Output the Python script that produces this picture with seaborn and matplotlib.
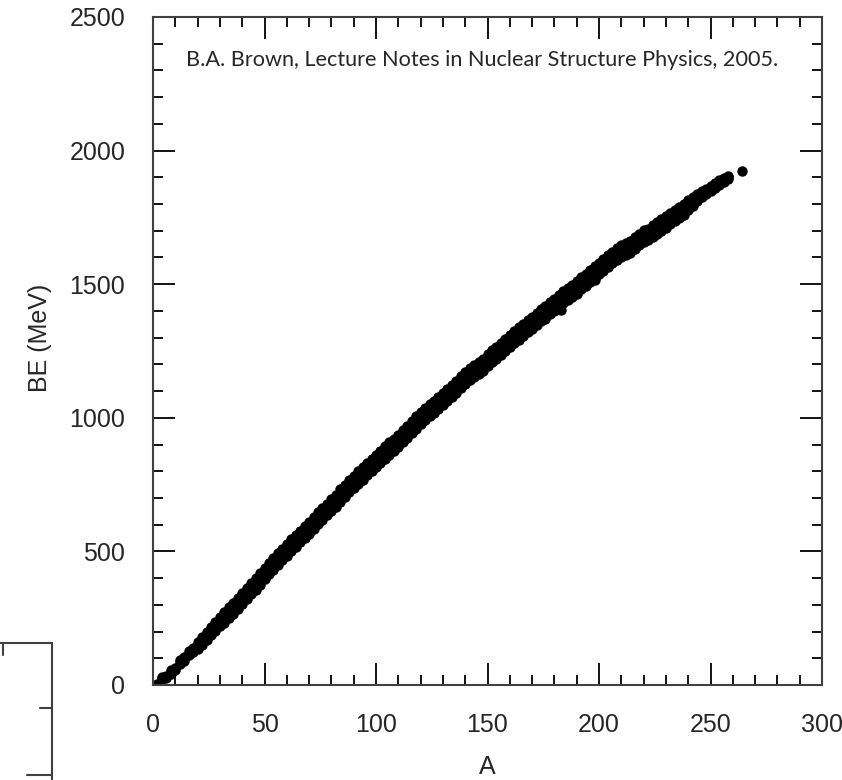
import numpy as np
import pandas as pd
import matplotlib.pyplot as plt
import seaborn as sns
from matplotlib.lines import Line2D
from matplotlib.ticker import MultipleLocator

# mass number grid for the band (step 2)
mass_a = list(range(2, 259, 2))

# upper edge of the band (most bound isobar), MeV
be_upper = [2.2, 28.3, 32.0, 56.5, 64.8, 92.2, 105.3, 127.6, 139.8, 160.6,
            177.8, 198.3, 216.7, 236.5, 255.6, 271.8, 291.8, 308.7, 327.3, 343.8,
            361.9, 381.0, 398.8, 418.7, 437.8, 456.3, 474.0, 492.3, 509.9, 526.8,
            545.3, 561.8, 578.1, 595.4, 611.1, 628.7, 645.7, 662.1, 679.0, 695.4,
            712.8, 732.3, 749.2, 768.5, 783.9, 799.7, 814.7, 830.0, 846.2, 861.9,
            875.2, 892.8, 907.7, 922.5, 937.1, 953.6, 969.0, 988.7, 1005.0, 1020.5,
            1035.5, 1050.0, 1063.9, 1079.4, 1093.8, 1109.2, 1123.4, 1139.0, 1158.3, 1172.7,
            1185.1, 1196.3, 1208.0, 1220.5, 1237.4, 1253.1, 1266.6, 1281.6, 1295.9, 1309.3,
            1324.1, 1338.0, 1351.6, 1365.8, 1378.1, 1392.8, 1406.6, 1418.4, 1432.8, 1444.6,
            1459.3, 1472.9, 1484.8, 1497.7, 1512.8, 1526.1, 1539.6, 1553.6, 1566.5, 1581.2,
            1595.2, 1608.7, 1622.3, 1636.4, 1645.6, 1652.9, 1661.0, 1675.9, 1689.6, 1701.9,
            1708.2, 1720.3, 1731.6, 1743.1, 1755.1, 1766.7, 1778.6, 1790.4, 1801.7, 1813.5,
            1825.0, 1836.0, 1847.0, 1857.8, 1868.0, 1878.6, 1889.0, 1897.0, 1906.0]

# middle of the band
be_mid = [1.5, 26.5, 30.0, 50.0, 60.5, 86.0, 98.0, 119.5, 131.0, 151.0,
          168.0, 188.5, 206.0, 225.0, 243.0, 257.5, 276.5, 292.5, 311.0, 327.5,
          345.5, 364.5, 382.0, 402.0, 421.0, 439.5, 457.0, 475.5, 493.0, 510.0,
          527.5, 543.5, 560.0, 577.5, 593.0, 610.5, 627.5, 644.0, 661.0, 677.5,
          695.0, 714.0, 731.0, 750.0, 765.5, 781.5, 796.5, 812.0, 828.0, 844.0,
          857.0, 874.5, 889.5, 904.5, 919.0, 935.5, 951.0, 970.5, 987.0, 1002.5,
          1017.5, 1032.0, 1046.0, 1061.5, 1076.0, 1091.0, 1105.5, 1121.0, 1140.0, 1154.5,
          1167.0, 1178.5, 1190.0, 1202.5, 1219.5, 1235.0, 1248.5, 1263.5, 1278.0, 1291.5,
          1306.0, 1320.0, 1333.5, 1348.0, 1360.0, 1375.0, 1388.5, 1400.5, 1415.0, 1426.5,
          1441.5, 1455.0, 1467.0, 1480.0, 1495.0, 1508.0, 1521.5, 1535.5, 1548.5, 1563.0,
          1577.0, 1590.5, 1604.0, 1618.5, 1627.5, 1635.0, 1643.0, 1658.0, 1671.5, 1684.0,
          1690.0, 1702.5, 1713.5, 1725.0, 1737.0, 1749.0, 1760.5, 1772.5, 1784.0, 1795.5,
          1809.0, 1824.0, 1836.0, 1847.0, 1858.0, 1870.0, 1880.0, 1890.0, 1900.0]

# lower edge of the band
be_lower = [0.5, 24.0, 26.5, 41.3, 56.0, 79.6, 91.0, 111.0, 122.0, 135.0,
            150.0, 169.0, 186.0, 203.0, 220.0, 233.0, 251.0, 266.0, 284.0, 303.0,
            320.0, 339.0, 356.0, 376.0, 395.0, 414.0, 431.0, 450.0, 467.0, 484.0,
            501.0, 517.0, 533.5, 551.0, 566.5, 584.0, 601.0, 617.5, 634.5, 651.0,
            668.0, 686.5, 703.0, 722.0, 738.0, 754.0, 769.0, 784.5, 800.5, 816.0,
            830.0, 847.0, 862.0, 877.0, 891.5, 908.0, 923.5, 942.0, 959.0, 975.5,
            990.5, 1005.0, 1019.0, 1034.5, 1049.0, 1064.5, 1079.0, 1094.0, 1112.0, 1127.0,
            1140.0, 1152.0, 1163.5, 1176.0, 1192.0, 1207.5, 1221.5, 1236.5, 1251.0, 1264.5,
            1279.0, 1293.0, 1306.5, 1321.0, 1333.5, 1348.0, 1362.0, 1374.0, 1388.5, 1400.0,
            1414.0, 1428.0, 1440.5, 1453.5, 1468.0, 1481.5, 1495.0, 1509.0, 1522.0, 1536.5,
            1550.5, 1564.0, 1577.5, 1592.0, 1601.0, 1609.0, 1617.0, 1632.0, 1645.5, 1658.0,
            1664.0, 1676.5, 1688.0, 1699.5, 1711.5, 1723.5, 1735.5, 1747.0, 1759.0, 1776.0,
            1794.0, 1812.0, 1825.0, 1837.0, 1849.0, 1861.0, 1872.0, 1882.0, 1894.0]

# stray points below the band and the last lone point
extra_a = [176, 183, 190, 198, 264]
extra_be = [1370.0, 1402.0, 1462.0, 1515.0, 1924.0]

df = pd.DataFrame({
    'A': mass_a * 3 + extra_a,
    'BE': be_upper + be_mid + be_lower + extra_be,
})

sns.set_style("ticks")
plt.rcParams['font.family'] = ['Liberation Sans', 'DejaVu Sans']

fig = plt.figure(figsize=(8.42, 7.8), dpi=100)
ax = fig.add_axes([153 / 842, 95 / 780, 669 / 842, 668 / 780])

sns.scatterplot(data=df, x='A', y='BE', color='black', s=56, linewidth=0, ax=ax)

ax.set_xlim(0, 300)
ax.set_ylim(0, 2500)
ax.xaxis.set_major_locator(MultipleLocator(50))
ax.xaxis.set_minor_locator(MultipleLocator(10))
ax.yaxis.set_major_locator(MultipleLocator(500))
ax.yaxis.set_minor_locator(MultipleLocator(100))
ax.tick_params(which='both', direction='in', top=True, right=True,
               color='black', width=1.3, labelsize=18, pad=20)
ax.tick_params(which='major', length=16)
ax.tick_params(which='minor', length=7)
for sp in ax.spines.values():
    sp.set_visible(True)
    sp.set_color('#404040')
    sp.set_linewidth(1.5)

ax.set_xlabel('A', fontsize=18)
ax.set_ylabel('BE (MeV)', fontsize=18)
ax.xaxis.set_label_coords(0.5, -0.105)
ax.yaxis.set_label_coords(-0.151, 0.52)

ax.text(15, 2317, 'B.A. Brown, Lecture Notes in Nuclear Structure Physics, 2005.',
        fontsize=15.6, family=['Lato', 'DejaVu Sans'], va='baseline', ha='left')

# leftover frame fragment in the bottom-left corner
H = 780
frag = [((0, 52), (H - 643, H - 643)),
        ((3, 3), (H - 643, H - 655)),
        ((52, 52), (H - 643, 0)),
        ((40, 52), (H - 708, H - 708)),
        ((27, 52), (H - 775, H - 775))]
for xs, ys in frag:
    fig.add_artist(Line2D([x / 842 for x in xs], [y / H for y in ys],
                          transform=fig.transFigure, color='#404040', lw=1.5))

fig.savefig('out.png', dpi=100)
